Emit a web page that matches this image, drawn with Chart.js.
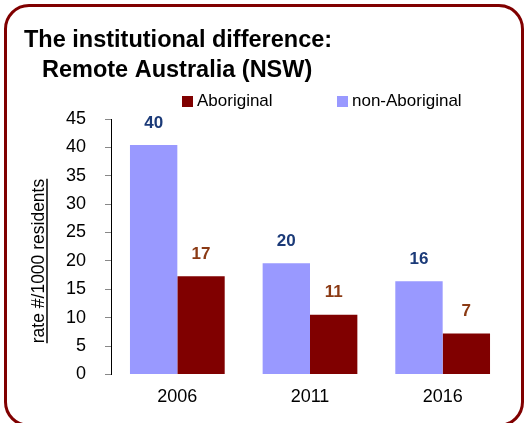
<!DOCTYPE html>
<html>
<head>
<meta charset="utf-8">
<script src="https://cdn.jsdelivr.net/npm/chart.js@4"></script>
<style>
  body { margin: 0; background: #fff; }
  #frame {
    position: absolute; left: 4px; top: 4px; width: 514px; height: 417px;
    border: 3px solid #800000; border-radius: 25px;
  }
  #wrap { position: absolute; left: 0; top: 0; width: 528px; height: 423px; }
</style>
</head>
<body>
<div id="frame"></div>
<div id="wrap"><canvas id="chart"></canvas></div>
<script>
// datos
const years = ['2006', '2011', '2016'];
const nonAboriginal = [40.4, 19.6, 16.4];
const aboriginal = [17.3, 10.5, 7.2];
const nonAboriginalLabels = ['40', '20', '16'];
const aboriginalLabels = ['17', '11', '7'];
const yTicks = [0, 5, 10, 15, 20, 25, 30, 35, 40, 45];

const FONT = '"Liberation Sans", Arial, sans-serif';

// titulo, leyenda y titulo del eje y dibujados a mano
const extras = {
    id: 'extras',
    afterDraw(chart) {
        const ctx = chart.ctx;
        ctx.save();
        ctx.fillStyle = '#000';
        ctx.textBaseline = 'alphabetic';
        ctx.textAlign = 'left';
        ctx.font = 'bold 23.5px ' + FONT;
        ctx.fillText('The institutional difference:', 24, 47);
        ctx.fillText('Remote Australia (NSW)', 42, 77);

        // leyenda
        ctx.font = '17px ' + FONT;
        ctx.textBaseline = 'middle';
        const items = [
            { text: 'Aboriginal', color: chart.data.datasets[1].backgroundColor, x: 182 },
            { text: 'non-Aboriginal', color: chart.data.datasets[0].backgroundColor, x: 337 }
        ];
        items.forEach(it => {
            ctx.fillStyle = it.color;
            ctx.fillRect(it.x, 96, 11, 11);
            ctx.fillStyle = '#000';
            ctx.fillText(it.text, it.x + 15, 101);
        });

        // titulo del eje y subrayado
        ctx.translate(39, 261);
        ctx.rotate(-Math.PI / 2);
        ctx.textAlign = 'center';
        ctx.font = '17.5px ' + FONT;
        ctx.fillText('rate #/1000 residents', 0, 0);
        const w = ctx.measureText('rate #/1000 residents').width;
        ctx.strokeStyle = '#000';
        ctx.lineWidth = 1.5;
        ctx.beginPath();
        ctx.moveTo(-w / 2, 8);
        ctx.lineTo(w / 2, 8);
        ctx.stroke();
        ctx.restore();
    }
};

// etiquetas sobre las barras
const barLabels = {
    id: 'barLabels',
    afterDatasetsDraw(chart) {
        const ctx = chart.ctx;
        ctx.save();
        ctx.font = 'bold 17px ' + FONT;
        ctx.textAlign = 'center';
        ctx.textBaseline = 'middle';
        chart.data.datasets.forEach((ds, i) => {
            const meta = chart.getDatasetMeta(i);
            meta.data.forEach((bar, j) => {
                ctx.fillStyle = ds.labelColor;
                ctx.fillText(ds.labels[j], bar.x, bar.y - 22);
            });
        });
        ctx.restore();
    }
};

new Chart(document.getElementById('chart'), {
    type: 'bar',
    data: {
        labels: years,
        datasets: [
            {
                label: 'non-Aboriginal',
                data: nonAboriginal,
                backgroundColor: '#9999ff',
                labels: nonAboriginalLabels,
                labelColor: '#1b3a78'
            },
            {
                label: 'Aboriginal',
                data: aboriginal,
                backgroundColor: '#800000',
                labels: aboriginalLabels,
                labelColor: '#8b3a14'
            }
        ]
    },
    options: {
        responsive: true,
        maintainAspectRatio: false,
        animation: false,
        layout: { padding: { left: 40, right: 19, top: 119, bottom: 3 } },
        plugins: {
            legend: { display: false },
            title: { display: false },
            tooltip: { enabled: false }
        },
        datasets: {
            bar: { categoryPercentage: 0.714, barPercentage: 1 }
        },
        scales: {
            x: {
                grid: { display: false, drawTicks: false },
                border: { display: false },
                ticks: { color: '#000', font: { family: FONT, size: 18 }, padding: 12 }
            },
            y: {
                min: 0,
                max: 45,
                afterBuildTicks: (axis) => { axis.ticks = yTicks.map(v => ({ value: v })); },
                afterFit: (axis) => { axis.width = 71; },
                grid: { display: true, drawOnChartArea: false, tickLength: 6, color: '#888' },
                border: { display: true, color: '#000', width: 1 },
                ticks: { color: '#000', font: { family: FONT, size: 18 }, padding: 19 }
            }
        }
    },
    plugins: [extras, barLabels]
});
</script>
</body>
</html>
